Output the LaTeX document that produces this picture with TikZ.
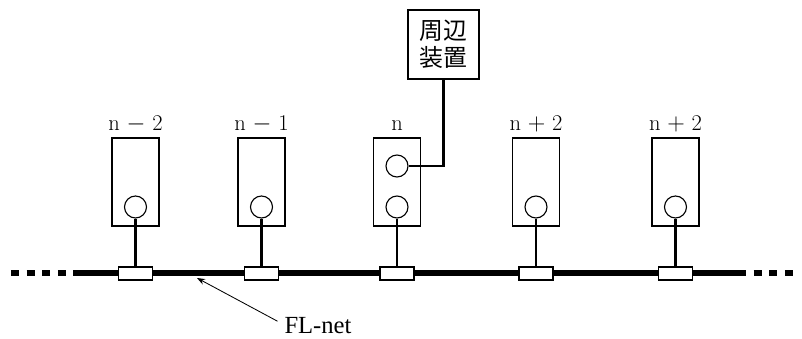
\documentclass[tikz,border=0pt]{standalone}
\usepackage{fontspec}
\newfontfamily\jpfont{Noto Sans CJK JP}
\newfontfamily\timesfont{Liberation Serif}
\usetikzlibrary{arrows.meta, positioning}

\begin{document}
\begin{tikzpicture}[
    station/.style={draw, line width=0.8pt, minimum width=1.175cm,
                    minimum height=2.2cm, inner sep=0pt},
    port/.style={draw, circle, line width=0.8pt, minimum size=0.55cm,
                 inner sep=0pt},
    tap/.style={draw, fill=white, line width=0.8pt, minimum width=0.85cm,
                minimum height=0.325cm, inner sep=0pt},
    lab/.style={font=\fontsize{16}{19}\selectfont, anchor=base},
    stem/.style={line width=2pt},
    bus/.style={line width=3.9pt},
    >=Stealth
  ]
  \useasboundingbox (0,0) rectangle (20.05,8.45);

  % network line
  \coordinate (dashL) at (0.275,1.625);
  \coordinate (busL) at (1.875,1.625);
  \coordinate (busR) at (18.45,1.625);
  \coordinate (dashR) at (19.875,1.625);
  \draw[bus] (busL) -- (busR);
  \draw[bus, dash pattern=on 5.7pt off 5.4pt] (dashL) -- (busL);
  \draw[bus, dash pattern=on 5.7pt off 5.4pt] (busR) -- (dashR);

  % stations
  \node[station] (st1) at (3.3875, 3.9) {};
  \node[station] (st2) at (6.5375, 3.9) {};
  \node[station] (st3) at (9.925, 3.9) {};
  \node[station] (st4) at (13.4, 3.9) {};
  \node[station] (st5) at (16.8875, 3.9) {};

  \node[lab] (lab1) at (3.3875, 5.2) {n $-$ 2};
  \node[lab] (lab2) at (6.5375, 5.2) {n $-$ 1};
  \node[lab] (lab3) at (9.925, 5.2) {n};
  \node[lab] (lab4) at (13.4, 5.2) {n $+$ 2};
  \node[lab] (lab5) at (16.8875, 5.2) {n $+$ 2};

  \node[port] (c1) at (3.3875, 3.275) {};
  \node[port] (c2) at (6.5375, 3.275) {};
  \node[port] (c3) at (9.925, 3.275) {};
  \node[port] (c4) at (13.4, 3.275) {};
  \node[port] (c5) at (16.8875, 3.275) {};
  \node[port] (cu) at (9.925, 4.3) {};

  \node[tap] (t1) at (3.3875, 1.6125) {};
  \node[tap] (t2) at (6.5375, 1.6125) {};
  \node[tap] (t3) at (9.925, 1.6125) {};
  \node[tap] (t4) at (13.4, 1.6125) {};
  \node[tap] (t5) at (16.8875, 1.6125) {};

  \draw[stem] (c1) -- (t1);
  \draw[stem] (c2) -- (t2);
  \draw[stem] (c3) -- (t3);
  \draw[stem] (c4) -- (t4);
  \draw[stem] (c5) -- (t5);

  % peripheral device
  \node[draw, line width=0.8pt, minimum width=1.775cm, minimum height=1.725cm,
        align=center, inner sep=0pt, font=\jpfont\fontsize{17}{19}\selectfont]
        (periph) at (11.0875, 7.3375) {周辺\\装置};
  \draw[stem] (periph.south) |- (cu.east);

  % FL-net label
  \node[font=\timesfont\fontsize{17.5}{20}\selectfont, inner sep=2pt]
        (flnet) at (7.95, 0.3) {FL-net};
  \coordinate (fltip) at (4.925, 1.5);
  \draw[->, line width=0.6pt] ([shift={(-0.1,0.12)}]flnet.west) -- (fltip);
\end{tikzpicture}
\end{document}
